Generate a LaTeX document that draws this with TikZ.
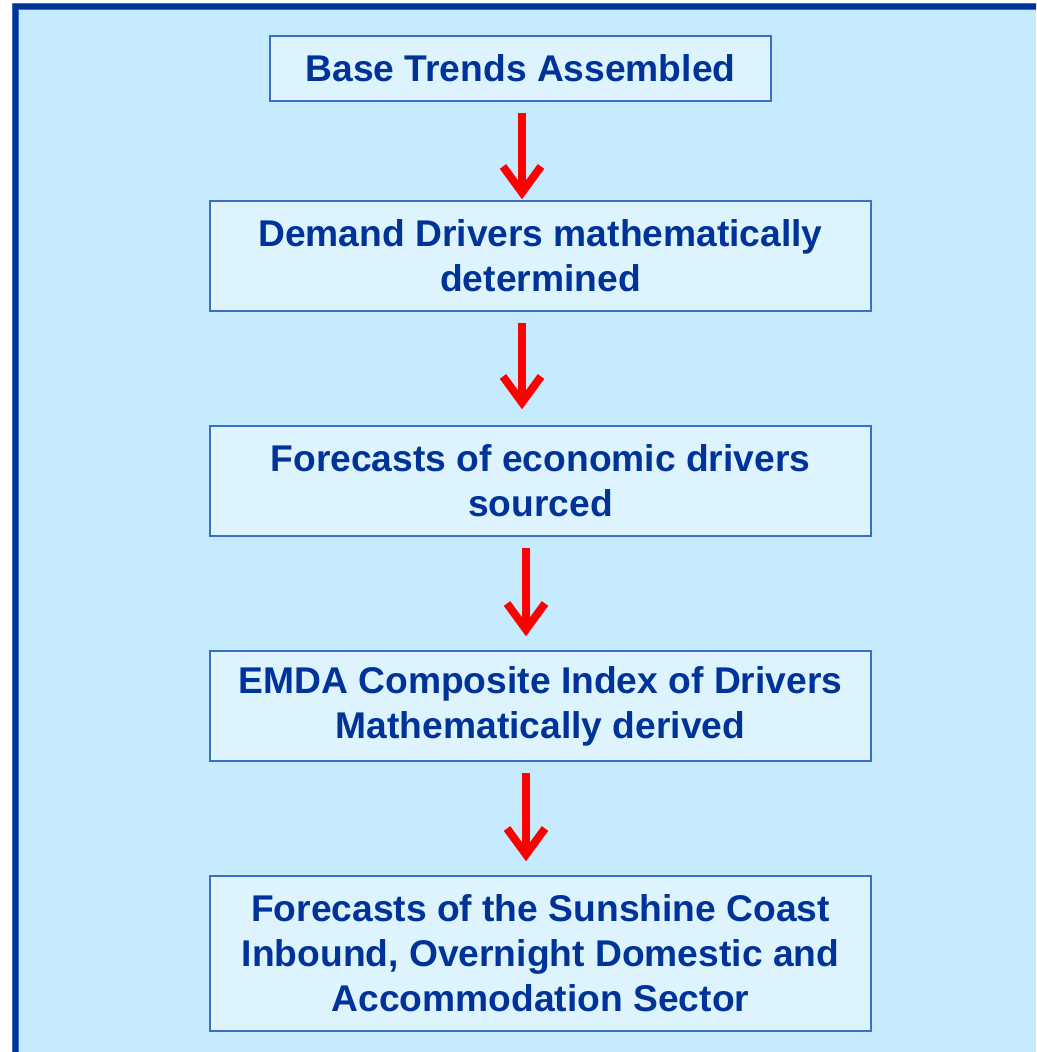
\documentclass[tikz,border=0pt]{standalone}
\usepackage{fontspec}
\setmainfont{Liberation Sans}
\usetikzlibrary{arrows.meta}
\definecolor{bgblue}{RGB}{198,235,254}
\definecolor{boxfill}{RGB}{221,243,254}
\definecolor{boxline}{RGB}{60,110,200}
\definecolor{frameblue}{RGB}{0,51,153}
\definecolor{txtblue}{RGB}{0,51,153}
\tikzset{
  stepbox/.style={draw=boxline, line width=1.5pt, fill=boxfill, inner sep=0pt,
    align=center, text=txtblue, font=\bfseries\fontsize{37.2}{45}\selectfont},
  redarrow/.style={draw=red, line width=8pt,
    -{Straight Barb[length=26pt, width=38pt, line width=8pt]}}
}
\begin{document}
\begin{tikzpicture}[x=1pt, y=-1pt]
\useasboundingbox (0,0) rectangle (1036,1052);
\begin{scope}
\clip (0,0) rectangle (1036,1052);
\fill[white] (0,0) rectangle (1036,1052);
\fill[bgblue] (13,4) rectangle (1036,1052);
\draw[boxline, line width=1pt] (12.5,1060) -- (12.5,3.5) -- (1040,3.5);
\draw[frameblue, line width=5pt] (15.5,1060) -- (15.5,6.5) -- (1040,6.5);
\draw[boxline, line width=1pt] (18.5,1060) -- (18.5,9.5) -- (1040,9.5);
\end{scope}

\node[stepbox, minimum width=501pt, minimum height=65pt] (b1) at (520.5,68.5) {Base Trends Assembled};
\node[stepbox, minimum width=661pt, minimum height=110pt] (b2) at (540.5,256) {Demand Drivers mathematically\\determined};
\node[stepbox, minimum width=661pt, minimum height=110pt] (b3) at (540.5,481) {Forecasts of economic drivers\\sourced};
\node[stepbox, minimum width=661pt, minimum height=110pt] (b4) at (540.5,706) {EMDA Composite Index of Drivers\\Mathematically derived};
\node[stepbox, minimum width=661pt, minimum height=155pt] (b5) at (540.5,953.5) {Forecasts of the Sunshine Coast\\Inbound, Overnight Domestic and\\Accommodation Sector};

\coordinate (xa) at (522,0);
\coordinate (xb) at (526,0);
\draw[redarrow, shorten <=11pt, shorten >=1pt] (b1.south -| xa) -- (b2.north -| xa);
\draw[redarrow, shorten <=11pt, shorten >=16pt] (b2.south -| xa) -- (b3.north -| xa);
\draw[redarrow, shorten <=11pt, shorten >=14pt] (b3.south -| xb) -- (b4.north -| xb);
\draw[redarrow, shorten <=11pt, shorten >=14pt] (b4.south -| xb) -- (b5.north -| xb);
\end{tikzpicture}
\end{document}
